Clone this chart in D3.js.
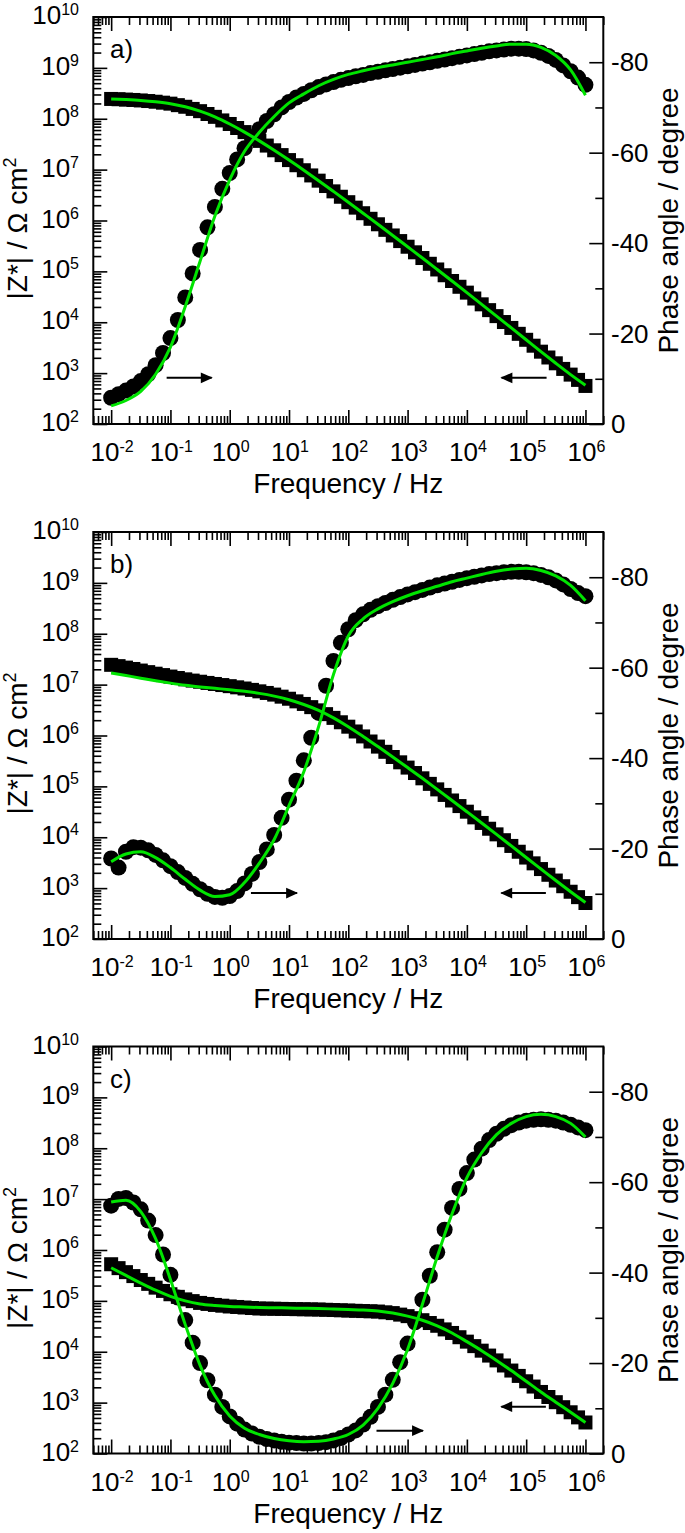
<!DOCTYPE html>
<html>
<head>
<meta charset="utf-8">
<script src="https://cdn.jsdelivr.net/npm/d3@7"></script>
<style>
  html, body { margin: 0; padding: 0; background: #fff; }
  svg text { font-family: "Liberation Sans", Arial, sans-serif; fill: #000; }
</style>
</head>
<body>
<svg id="fig" width="685" height="1533"></svg>
<script>
// Measured frequencies (Hz), 8 points per decade
const freq = [
  0.01, 0.01334, 0.01778, 0.02371, 0.03162, 0.04217, 0.05623, 0.07499,
  0.1, 0.1334, 0.1778, 0.2371, 0.3162, 0.4217, 0.5623, 0.7499,
  1, 1.334, 1.778, 2.371, 3.162, 4.217, 5.623, 7.499,
  10, 13.34, 17.78, 23.71, 31.62, 42.17, 56.23, 74.99,
  100, 133.4, 177.8, 237.1, 316.2, 421.7, 562.3, 749.9,
  1000, 1334, 1778, 2371, 3162, 4217, 5623, 7499,
  1e4, 13340, 17780, 23710, 31620, 42170, 56230, 74990,
  1e5, 133400, 177800, 237100, 316200, 421700, 562300, 749900,
  1e6
];
// Frequencies at which the fitted model is tabulated
const fitFreq = [
  0.01, 0.01778, 0.03162, 0.05623, 0.1, 0.1778, 0.3162, 0.5623,
  1, 1.778, 3.162, 5.623, 10, 17.78, 31.62, 56.23,
  100, 177.8, 316.2, 562.3, 1000, 1778, 3162, 5623,
  1e4, 17780, 31620, 56230, 1e5, 177800, 316200, 562300, 1e6
];

// ---- a) ----
const zA = [
  2.45e8, 2.42e8, 2.38e8, 2.34e8, 2.29e8, 2.23e8, 2.16e8, 2.07e8,
  1.98e8, 1.85e8, 1.72e8, 1.56e8, 1.41e8, 1.24e8, 1.09e8, 9.27e7,
  7.89e7, 6.58e7, 5.47e7, 4.49e7, 3.67e7, 2.97e7, 2.40e7, 1.93e7,
  1.54e7, 1.22e7, 9.73e6, 7.69e6, 6.07e6, 4.76e6, 3.74e6, 2.93e6,
  2.29e6, 1.79e6, 1.39e6, 1.08e6, 8.43e5, 6.55e5, 5.08e5, 3.94e5,
  3.05e5, 2.37e5, 1.83e5, 1.41e5, 1.09e5, 8.39e4, 6.47e4, 4.98e4,
  3.82e4, 2.93e4, 2.25e4, 1.73e4, 1.32e4, 1.01e4, 7.73e3, 5.92e3,
  4.52e3, 3.46e3, 2.64e3, 2.03e3, 1.56e3, 1.21e3, 935, 736,
  560
];
const phA = [
  -5.8, -6.6, -7.4, -8.3, -9.5, -11, -13, -15.7,
  -19, -23, -28, -33.3, -38.5, -43.5, -48, -52,
  -55.5, -58.5, -61, -63.2, -65.2, -67, -68.5, -70,
  -71.2, -72.2, -73, -73.8, -74.5, -75.1, -75.6, -76.1,
  -76.5, -76.9, -77.2, -77.6, -77.9, -78.2, -78.5, -78.8,
  -79.1, -79.4, -79.7, -80, -80.3, -80.6, -80.9, -81.2,
  -81.5, -81.8, -82.1, -82.4, -82.6, -82.8, -83, -83,
  -82.9, -82.6, -82.1, -81.4, -80.5, -79.3, -78, -76.6,
  -75
];
const zFitA = [
  2.45e8, 2.38e8, 2.29e8, 2.16e8, 1.98e8, 1.72e8, 1.41e8, 1.09e8,
  7.89e7, 5.47e7, 3.67e7, 2.40e7, 1.54e7, 9.73e6, 6.07e6, 3.74e6,
  2.29e6, 1.39e6, 8.43e5, 5.08e5, 3.05e5, 1.83e5, 1.09e5, 6.47e4,
  3.82e4, 2.25e4, 1.32e4, 7.73e3, 4.52e3, 2.64e3, 1.56e3, 935, 578
];
const phFitA = [
  -4.0, -5.2, -7.2, -11, -17, -26, -36, -46,
  -54, -60.3, -64.5, -68, -71, -73, -74.8, -76.2,
  -77.3, -78.1, -78.8, -79.4, -80, -80.6, -81.2, -81.9,
  -82.5, -83.1, -83.6, -84, -84, -83.3, -81.5, -78.3, -72.7
];

// ---- b) ----
const zB = [
  2.45e7, 2.31e7, 2.16e7, 2.03e7, 1.89e7, 1.76e7, 1.64e7, 1.54e7,
  1.44e7, 1.35e7, 1.27e7, 1.20e7, 1.14e7, 1.08e7, 1.03e7, 9.81e6,
  9.33e6, 8.85e6, 8.39e6, 7.88e6, 7.38e6, 6.86e6, 6.37e6, 5.80e6,
  5.28e6, 4.69e6, 4.17e6, 3.61e6, 3.12e6, 2.63e6, 2.22e6, 1.82e6,
  1.49e6, 1.20e6, 9.59e5, 7.62e5, 6.05e5, 4.78e5, 3.78e5, 2.97e5,
  2.34e5, 1.83e5, 1.44e5, 1.12e5, 8.73e4, 6.79e4, 5.28e4, 4.10e4,
  3.18e4, 2.46e4, 1.91e4, 1.47e4, 1.14e4, 8.75e3, 6.75e3, 5.19e3,
  3.99e3, 3.07e3, 2.37e3, 1.83e3, 1.41e3, 1.09e3, 849, 665,
  510
];
const phB = [
  -17.8, -15.8, -19.3, -20.3, -20.2, -19.6, -18.6, -17.4,
  -16.1, -14.8, -13.5, -12.2, -11, -10, -9.3, -9.1,
  -9.5, -10.6, -12.3, -14.4, -17, -19.8, -23, -26.8,
  -30.8, -35, -39.5, -44.5, -50, -56, -61.5, -65.5,
  -68.5, -70.5, -71.8, -72.8, -73.6, -74.3, -75, -75.6,
  -76.2, -76.7, -77.2, -77.7, -78.2, -78.6, -79, -79.4,
  -79.8, -80.1, -80.4, -80.7, -80.9, -81.1, -81.2, -81.2,
  -81.1, -80.9, -80.5, -80, -79.3, -78.4, -77.4, -76.5,
  -75.8
];
const zFitB = [
  1.70e7, 1.51e7, 1.34e7, 1.19e7, 1.07e7, 9.73e6, 9.02e6, 8.45e6,
  7.94e6, 7.40e6, 6.73e6, 5.94e6, 5.05e6, 4.07e6, 3.12e6, 2.22e6,
  1.49e6, 9.59e5, 6.05e5, 3.78e5, 2.34e5, 1.44e5, 8.73e4, 5.28e4,
  3.18e4, 1.91e4, 1.14e4, 6.75e3, 3.99e3, 2.37e3, 1.41e3, 849, 521
];
const phFitB = [
  -17.1, -18.8, -19.3, -18, -15.8, -13.2, -10.8, -9.4,
  -9.8, -12.5, -16.8, -22, -29.5, -37, -47, -58.5,
  -67, -70.8, -73, -74.6, -75.9, -77, -78, -79,
  -79.8, -80.6, -81.3, -81.8, -82, -81.5, -80.3, -78.2, -74.8
];

// ---- c) ----
const zC = [
  5.25e5, 4.40e5, 3.67e5, 3.07e5, 2.57e5, 2.16e5, 1.82e5, 1.57e5,
  1.35e5, 1.20e5, 1.07e5, 9.89e4, 9.12e4, 8.71e4, 8.32e4, 8.04e4,
  7.76e4, 7.59e4, 7.41e4, 7.24e4, 7.08e4, 7.04e4, 7.00e4, 6.96e4,
  6.92e4, 6.88e4, 6.84e4, 6.80e4, 6.76e4, 6.68e4, 6.61e4, 6.53e4,
  6.46e4, 6.38e4, 6.31e4, 6.24e4, 6.17e4, 5.96e4, 5.75e4, 5.37e4,
  5.01e4, 4.57e4, 4.17e4, 3.67e4, 3.24e4, 2.75e4, 2.34e4, 1.93e4,
  1.58e4, 1.29e4, 1.05e4, 8.41e3, 6.76e3, 5.37e3, 4.27e3, 3.35e3,
  2.63e3, 2.07e3, 1.62e3, 1.29e3, 1.02e3, 813, 646, 513,
  407
];
const phC = [
  -54.8, -56.3, -56.5, -55.5, -54, -51.5, -48.3, -44,
  -39.5, -34.5, -29.5, -24.5, -20, -16.2, -13, -10.3,
  -8.2, -6.6, -5.3, -4.4, -3.7, -3.2, -2.9, -2.6,
  -2.4, -2.3, -2.2, -2.2, -2.3, -2.5, -2.9, -3.4,
  -4.2, -5.1, -6.4, -8.1, -10.3, -13, -16.3, -20.2,
  -24.3, -29, -34, -39.3, -44.5, -49.5, -54.3, -58.5,
  -62, -65, -67.4, -69.3, -70.7, -71.8, -72.6, -73.2,
  -73.6, -73.8, -73.9, -73.8, -73.6, -73.2, -72.7, -72.1,
  -71.5
];
const zFitC = [
  4.47e5, 3.16e5, 2.24e5, 1.62e5, 1.23e5, 1.00e5, 8.71e4, 8.13e4,
  7.76e4, 7.59e4, 7.41e4, 7.33e4, 7.24e4, 7.16e4, 7.08e4, 6.92e4,
  6.76e4, 6.61e4, 6.31e4, 5.75e4, 5.01e4, 4.17e4, 3.24e4, 2.34e4,
  1.58e4, 1.05e4, 6.76e3, 4.27e3, 2.63e3, 1.62e3, 1.02e3, 646, 407
];
const phFitC = [
  -55.6, -56, -53.5, -47.5, -38.5, -28.5, -19.5, -12.8,
  -8.3, -5.6, -4.2, -3.3, -2.8, -2.6, -2.7, -3.2,
  -4.2, -6.3, -10, -15.5, -23, -33, -43.5, -53,
  -61, -66.5, -70.5, -73, -74.5, -75, -74.5, -73, -70
];

// Arrows telling which axis each curve belongs to (frequency span, |Z| level)
const arrowsA = [{ from: 0.0863, to: 0.495, z: 808 }, { from: 2.21e5, to: 3.85e4, z: 808 }];
const arrowsB = [{ from: 2.28, to: 13.6, z: 800 }, { from: 2.15e5, to: 3.82e4, z: 800 }];
const arrowsC = [{ from: 299, to: 1811, z: 281 }, { from: 2.15e5, to: 3.82e4, z: 834 }];

// Axis ticks and labels
const freqTicks = [1e-2, 1e-1, 1e0, 1e1, 1e2, 1e3, 1e4, 1e5, 1e6];
const freqExp = ["-2", "-1", "0", "1", "2", "3", "4", "5", "6"];
const zTicks = [1e2, 1e3, 1e4, 1e5, 1e6, 1e7, 1e8, 1e9, 1e10];
const zExp = ["2", "3", "4", "5", "6", "7", "8", "9", "10"];
const phaseTicks = [0, -20, -40, -60, -80];
const phaseMinor = [-10, -30, -50, -70];
const panelLabels = ["a)", "b)", "c)"];

const panels = [
  { label: panelLabels[0], z: zA, ph: phA, zFit: zFitA, phFit: phFitA, arrows: arrowsA },
  { label: panelLabels[1], z: zB, ph: phB, zFit: zFitB, phFit: phFitB, arrows: arrowsB },
  { label: panelLabels[2], z: zC, ph: phC, zFit: zFitC, phFit: phFitC, arrows: arrowsC }
];

// ---- layout ----
const svg = d3.select("#fig");
const X0 = 93.3, X1 = 603.3, PH = 407;
const tops = [17, 532, 1046.5];
const GREEN = "#00e400";
const MAJ = 14, MIN = 8;
const TICK_FS = 26, SUP_FS = 16;

const x = d3.scaleLog().domain([0.005, 2e6]).range([X0, X1]);

function minorLog(lo, hi) {
  const out = [];
  for (let n = Math.floor(Math.log10(lo)) - 1; n <= Math.ceil(Math.log10(hi)); n++) {
    for (let k = 2; k <= 9; k++) {
      const v = k * Math.pow(10, n);
      if (v >= lo * 0.999 && v <= hi * 1.001) out.push(v);
    }
  }
  return out;
}
const xMinor = minorLog(0.005, 2e6);
const zMinor = minorLog(1e2, 1e10);

function styleAxis(sel) {
  sel.select(".domain").remove();
  sel.selectAll("line").attr("stroke", "#000").attr("stroke-width", 1.6);
  sel.selectAll("text").remove();
}

const arrowHead = svg.append("defs").append("marker")
  .attr("id", "head").attr("viewBox", "0 0 10 10")
  .attr("refX", 9).attr("refY", 5)
  .attr("markerWidth", 15).attr("markerHeight", 12)
  .attr("markerUnits", "userSpaceOnUse")
  .attr("orient", "auto");
arrowHead.append("path").attr("d", "M0,0.5 L10,5 L0,9.5 Z").attr("fill", "#000");

panels.forEach((p, i) => {
  const top = tops[i], bot = top + PH;
  const yz = d3.scaleLog().domain([1e2, 1e10]).range([bot, top]);
  const yp = d3.scaleLinear().domain([0, -90]).range([bot, top]);
  const g = svg.append("g");

  // ticks, all pointing inward
  g.append("g").attr("transform", `translate(0,${bot})`)
    .call(d3.axisBottom(x).tickValues(freqTicks).tickSize(-MAJ).tickFormat("")).call(styleAxis);
  g.append("g").attr("transform", `translate(0,${bot})`)
    .call(d3.axisBottom(x).tickValues(xMinor).tickSize(-MIN).tickFormat("")).call(styleAxis);
  g.append("g").attr("transform", `translate(0,${top})`)
    .call(d3.axisTop(x).tickValues(freqTicks).tickSize(-MAJ).tickFormat("")).call(styleAxis);
  g.append("g").attr("transform", `translate(0,${top})`)
    .call(d3.axisTop(x).tickValues(xMinor).tickSize(-MIN).tickFormat("")).call(styleAxis);
  g.append("g").attr("transform", `translate(${X0},0)`)
    .call(d3.axisLeft(yz).tickValues(zTicks).tickSize(-MAJ).tickFormat("")).call(styleAxis);
  g.append("g").attr("transform", `translate(${X0},0)`)
    .call(d3.axisLeft(yz).tickValues(zMinor).tickSize(-MIN).tickFormat("")).call(styleAxis);
  g.append("g").attr("transform", `translate(${X1},0)`)
    .call(d3.axisRight(yp).tickValues(phaseTicks).tickSize(-MAJ).tickFormat("")).call(styleAxis);
  g.append("g").attr("transform", `translate(${X1},0)`)
    .call(d3.axisRight(yp).tickValues(phaseMinor).tickSize(-MIN).tickFormat("")).call(styleAxis);

  // frame
  g.append("rect").attr("x", X0).attr("y", top).attr("width", X1 - X0).attr("height", PH)
    .attr("fill", "none").attr("stroke", "#000").attr("stroke-width", 2);

  // frequency tick labels
  freqTicks.forEach((v, k) => {
    const t = g.append("text").attr("x", x(v) + 1).attr("y", bot + 37)
      .attr("text-anchor", "middle").attr("font-size", TICK_FS);
    t.append("tspan").text("10");
    t.append("tspan").attr("dy", -9).attr("font-size", SUP_FS).text(freqExp[k]);
  });
  // |Z| tick labels
  zTicks.forEach((v, k) => {
    const t = g.append("text").attr("x", 79).attr("y", yz(v) + 7)
      .attr("text-anchor", "end").attr("font-size", TICK_FS);
    t.append("tspan").text("10");
    t.append("tspan").attr("dy", -9).attr("font-size", SUP_FS).text(zExp[k]);
  });
  // phase tick labels
  phaseTicks.forEach(v => {
    g.append("text").attr("x", 611).attr("y", yp(v) + 9)
      .attr("font-size", TICK_FS).text(v);
  });

  // axis titles
  g.append("text").attr("x", (X0 + X1) / 2).attr("y", bot + 69)
    .attr("text-anchor", "middle").attr("font-size", 28).text("Frequency / Hz");
  const lt = g.append("text")
    .attr("transform", `translate(27,${(top + bot) / 2 + 8}) rotate(-90)`)
    .attr("text-anchor", "middle").attr("font-size", 28);
  lt.append("tspan").text("|Z*| / \u03A9 cm");
  lt.append("tspan").attr("dy", -11).attr("font-size", 18).text("2");
  g.append("text")
    .attr("transform", `translate(678,${(top + bot) / 2}) rotate(-90)`)
    .attr("text-anchor", "middle").attr("font-size", 28).text("Phase angle / degree");

  // panel letter
  g.append("text").attr("x", 110).attr("y", top + 41).attr("font-size", 26).text(p.label);

  // measured |Z| (squares) and phase (circles)
  const S = 14;
  g.append("g").selectAll("rect").data(freq).join("rect")
    .attr("x", (f) => x(f) - S / 2)
    .attr("y", (f, j) => yz(p.z[j]) - S / 2)
    .attr("width", S).attr("height", S).attr("fill", "#000");
  g.append("g").selectAll("circle").data(freq).join("circle")
    .attr("cx", (f) => x(f))
    .attr("cy", (f, j) => yp(p.ph[j]))
    .attr("r", 8).attr("fill", "#000");

  // fitted model curves
  const zLine = d3.line().x(d => x(d[0])).y(d => yz(d[1])).curve(d3.curveMonotoneX);
  const pLine = d3.line().x(d => x(d[0])).y(d => yp(d[1])).curve(d3.curveMonotoneX);
  g.append("path").attr("d", zLine(fitFreq.map((f, j) => [f, p.zFit[j]])))
    .attr("fill", "none").attr("stroke", GREEN).attr("stroke-width", 3);
  g.append("path").attr("d", pLine(fitFreq.map((f, j) => [f, p.phFit[j]])))
    .attr("fill", "none").attr("stroke", GREEN).attr("stroke-width", 3);

  // axis pointers
  p.arrows.forEach(a => {
    g.append("line")
      .attr("x1", x(a.from)).attr("x2", x(a.to))
      .attr("y1", yz(a.z)).attr("y2", yz(a.z))
      .attr("stroke", "#000").attr("stroke-width", 2)
      .attr("marker-end", "url(#head)");
  });
});
</script>
</body>
</html>
